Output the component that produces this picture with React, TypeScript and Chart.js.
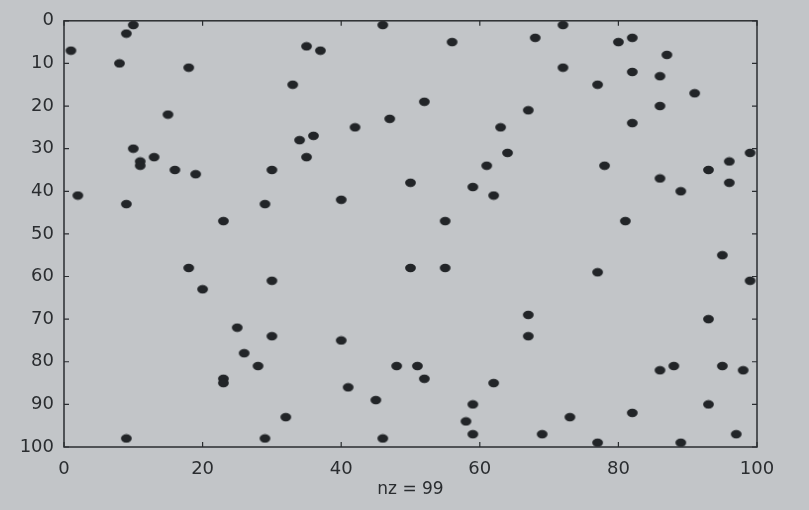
import React, { useEffect, useRef } from "react";
import { Chart, registerables } from "chart.js";

Chart.register(...registerables);

// column index (x) and row index (y) of each nonzero in the spy plot
const colIndex = [
  1, 9, 10, 8, 18, 15, 10, 11, 11, 13, 16, 19, 2, 9, 23, 18, 20, 25, 26, 23,
  23, 28, 30, 30, 29, 9, 29, 30, 33, 35, 37, 34, 36, 35, 42, 40, 47, 46, 56, 52,
  50, 55, 40, 41, 45, 46, 48, 50, 55, 51, 52, 32, 59, 61, 63, 64, 62, 67, 68, 72,
  72, 58, 59, 59, 62, 67, 67, 69, 73, 80, 82, 77, 82, 78, 82, 87, 86, 86, 91, 86,
  81, 77, 89, 93, 96, 96, 99, 95, 99, 93, 88, 86, 95, 98, 93, 82, 77, 89, 97,
];
const rowIndex = [
  7, 3, 1, 10, 11, 22, 30, 33, 34, 32, 35, 36, 41, 43, 47, 58, 63, 72, 78, 84,
  85, 81, 74, 61, 98, 98, 43, 35, 15, 6, 7, 28, 27, 32, 25, 42, 23, 1, 5, 19,
  38, 47, 75, 86, 89, 98, 81, 58, 58, 81, 84, 93, 39, 34, 25, 31, 41, 21, 4, 1,
  11, 94, 97, 90, 85, 69, 74, 97, 93, 5, 4, 15, 12, 34, 24, 8, 13, 20, 17, 37,
  47, 59, 40, 35, 33, 38, 31, 55, 61, 70, 81, 82, 81, 82, 90, 92, 99, 99, 97,
];
const xTickValues = [0, 20, 40, 60, 80, 100];
const yTickValues = [0, 10, 20, 30, 40, 50, 60, 70, 80, 90, 100];
const xAxisLabel = "nz = 99";

const BG = "#c2c5c8";
const INK = "#2a2d30";
const DOT = "#222528";

export default function App() {
  const ref = useRef<HTMLCanvasElement | null>(null);

  useEffect(() => {
    document.body.style.margin = "0";
    document.body.style.background = BG;
    const canvas = ref.current;
    if (!canvas) return;

    const dot = document.createElement("canvas");
    dot.width = 13;
    dot.height = 10;
    const dctx = dot.getContext("2d")!;
    dctx.fillStyle = DOT;
    dctx.beginPath();
    dctx.ellipse(6.5, 5, 5.4, 4.2, 0, 0, Math.PI * 2);
    dctx.fill();

    const framePlugin = {
      id: "frame",
      afterDatasetsDraw(chart: any) {
        const { ctx, chartArea, scales } = chart;
        const { left, right, top, bottom } = chartArea;
        ctx.save();
        ctx.strokeStyle = INK;
        ctx.lineWidth = 1.5;
        ctx.strokeRect(left, top, right - left, bottom - top);
        ctx.lineWidth = 1.2;
        const tl = 5;
        ctx.beginPath();
        for (const v of xTickValues) {
          const px = scales.x.getPixelForValue(v);
          ctx.moveTo(px, bottom);
          ctx.lineTo(px, bottom - tl);
          ctx.moveTo(px, top);
          ctx.lineTo(px, top + tl);
        }
        for (const v of yTickValues) {
          const py = scales.y.getPixelForValue(v);
          ctx.moveTo(left, py);
          ctx.lineTo(left + tl, py);
          ctx.moveTo(right, py);
          ctx.lineTo(right - tl, py);
        }
        ctx.stroke();
        ctx.restore();
      },
    };

    const font = { family: "DejaVu Sans", size: 18 };

    const chart = new Chart(canvas, {
      type: "scatter",
      data: {
        datasets: [
          {
            data: colIndex.map((c, i) => ({ x: c, y: rowIndex[i] })),
            pointStyle: dot as any,
            pointRadius: 5,
            backgroundColor: DOT,
            borderWidth: 0,
          },
        ],
      },
      options: {
        responsive: false,
        animation: false,
        layout: { padding: { top: 11, right: 52, left: 0, bottom: 0 } },
        plugins: {
          legend: { display: false },
          tooltip: { enabled: false },
        },
        scales: {
          x: {
            type: "linear",
            min: 0,
            max: 100,
            afterBuildTicks: (s: any) => {
              s.ticks = xTickValues.map((v) => ({ value: v }));
            },
            afterFit: (s: any) => {
              s.height = 63;
            },
            grid: { display: false, drawTicks: false },
            border: { display: false },
            ticks: { font, color: INK, padding: 12, maxRotation: 0 },
            title: {
              display: true,
              text: xAxisLabel,
              font: { family: "DejaVu Sans", size: 17 },
              color: INK,
              padding: { top: 0, bottom: 10 },
            },
          },
          y: {
            type: "linear",
            reverse: true,
            min: 0,
            max: 100,
            afterBuildTicks: (s: any) => {
              s.ticks = yTickValues.map((v) => ({ value: v }));
            },
            afterFit: (s: any) => {
              s.width = 64;
            },
            grid: { display: false, drawTicks: false },
            border: { display: false },
            ticks: { font, color: INK, padding: 10 },
          },
        },
      },
      plugins: [framePlugin],
    } as any);

    return () => chart.destroy();
  }, []);

  return (
    <canvas
      ref={ref}
      width={809}
      height={510}
      style={{ display: "block", width: 809, height: 510 }}
    />
  );
}
